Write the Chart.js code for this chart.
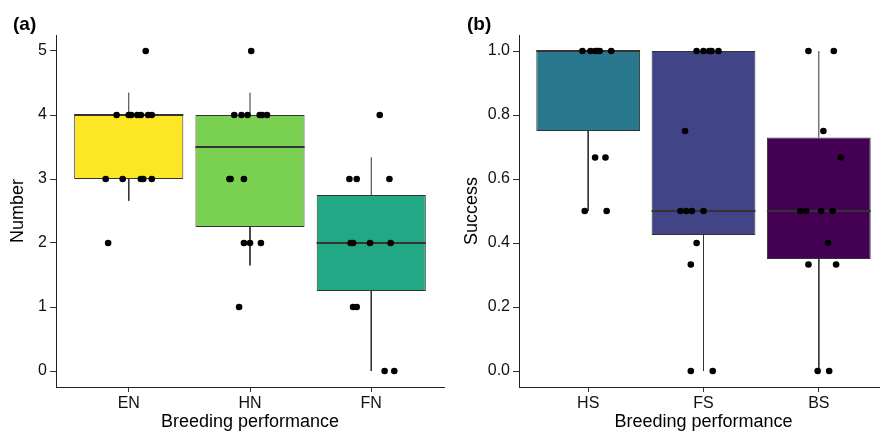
<!DOCTYPE html>
<html>
<head>
<meta charset="utf-8">
<script src="https://cdn.jsdelivr.net/npm/chart.js@4.4.1/dist/chart.umd.min.js"></script>
<style>
  html, body { margin: 0; padding: 0; background: #fff; overflow: hidden; }
  #wrapA { position: absolute; left: 0; top: 0; }
  #wrapB { position: absolute; left: 450px; top: 0; }
</style>
</head>
<body>
<div id="wrapA"><canvas id="chartA" width="450" height="433"></canvas></div>
<div id="wrapB"><canvas id="chartB" width="442" height="433"></canvas></div>
<script>
// Panel (a) - number
var numCats = ['EN', 'HN', 'FN'];
var numColors = ['#FDE725', '#7AD151', '#22A884'];
var numQ1 = [3, 2.25, 1.25];
var numMed = [4, 3.5, 2];
var numQ3 = [4, 4, 2.75];
var numLow = [2.66, 1.65, 0];
var numHigh = [4.35, 4.35, 3.34];
var numTicks = [0, 1, 2, 3, 4, 5];
var numPtsY = [
    [5, 4, 4, 4, 4, 4, 4, 4, 3, 3, 3, 3, 3, 2],
    [5, 4, 4, 4, 4, 4, 4, 3, 3, 3, 2, 2, 2, 1],
    [4, 3, 3, 3, 2, 2, 2, 2, 1, 1, 0, 0]
];
var numJitter = [
    [0.14, -0.10, 0.00, 0.02, 0.07, 0.10, 0.16, 0.19, -0.19, -0.05, 0.10, 0.12, 0.19, -0.17],
    [0.01, -0.13, -0.07, -0.02, 0.08, 0.10, 0.14, -0.17, -0.16, -0.05, -0.05, 0.00, 0.09, -0.09],
    [0.07, -0.18, -0.12, 0.15, -0.17, -0.15, -0.01, 0.16, -0.15, -0.12, 0.11, 0.19]
];

// Panel (b) - success
var sucCats = ['HS', 'FS', 'BS'];
var sucColors = ['#2A788E', '#414487', '#440154'];
var sucQ1 = [0.75, 0.425, 0.35];
var sucMed = [1.0, 0.5, 0.5];
var sucQ3 = [1.0, 1.0, 0.73];
var sucLow = [0.5, 0, 0];
var sucHigh = [1.0, 1.0, 1.0];
var sucTicks = [0, 0.2, 0.4, 0.6, 0.8, 1.0];
var sucPtsY = [
    [1, 1, 1, 1, 1, 1, 0.667, 0.667, 0.5, 0.5],
    [1, 1, 1, 1, 1, 0.75, 0.5, 0.5, 0.5, 0.5, 0.4, 0.333, 0, 0],
    [1, 1, 0.75, 0.667, 0.5, 0.5, 0.5, 0.5, 0.4, 0.333, 0.333, 0, 0]
];
var sucJitter = [
    [-0.05, 0.02, 0.06, 0.08, 0.10, 0.20, 0.06, 0.15, -0.03, 0.16],
    [-0.06, 0.00, 0.05, 0.07, 0.13, -0.16, -0.20, -0.15, -0.10, 0.00, -0.06, -0.11, -0.11, 0.08],
    [-0.09, 0.13, 0.04, 0.19, -0.16, -0.11, 0.02, 0.12, 0.08, -0.09, 0.15, -0.01, 0.09]
];

var FONT = "'Liberation Sans', Arial, sans-serif";
var INK = '#333333';
var BOX_HALF = 0.45;

// draws the (a)/(b) tag in the corner
var panelTag = {
    id: 'panelTag',
    afterDraw: function (chart, args, opts) {
        var ctx = chart.ctx;
        ctx.save();
        ctx.font = 'bold 19px ' + FONT;
        ctx.fillStyle = '#000';
        ctx.textBaseline = 'alphabetic';
        ctx.fillText(opts.text, opts.x, 30);
        ctx.restore();
    }
};

function buildDatasets(colors, q1, med, q3, low, high, ptsY, jitter) {
    var sets = [];
    // boxes
    sets.push({
        type: 'bar',
        data: q1.map(function (v, i) { return {x: i + 1, y: [v, q3[i]]}; }),
        backgroundColor: colors,
        borderColor: INK,
        borderWidth: 1,
        borderSkipped: false,
        categoryPercentage: 0.9,
        barPercentage: 1.0,
        order: 4
    });
    for (var i = 0; i < q1.length; i++) {
        // whiskers
        if (high[i] > q3[i]) {
            sets.push({type: 'line', data: [{x: i + 1, y: q3[i]}, {x: i + 1, y: high[i]}],
                borderColor: INK, borderWidth: 1, pointRadius: 0, order: 3});
        }
        if (low[i] < q1[i]) {
            sets.push({type: 'line', data: [{x: i + 1, y: q1[i]}, {x: i + 1, y: low[i]}],
                borderColor: INK, borderWidth: 1, pointRadius: 0, order: 3});
        }
        // median
        sets.push({type: 'line', data: [{x: i + 1 - BOX_HALF, y: med[i]}, {x: i + 1 + BOX_HALF, y: med[i]}],
            borderColor: INK, borderWidth: 2, pointRadius: 0, order: 2});
    }
    // jittered points
    var pts = [];
    ptsY.forEach(function (arr, i) {
        arr.forEach(function (v, j) { pts.push({x: i + 1 + jitter[i][j], y: v}); });
    });
    sets.push({type: 'scatter', data: pts, backgroundColor: '#000', borderWidth: 0,
        pointRadius: 3.3, order: 1});
    return sets;
}

function makeChart(id, cats, sets, yMin, yMax, yTicks, yFmt, yTitle, yWidth, yTitlePad, xMax, padRight, tag, tagX) {
    var ctx = document.getElementById(id).getContext('2d');
    return new Chart(ctx, {
        type: 'bar',
        data: {datasets: sets},
        plugins: [panelTag],
        options: {
            responsive: false,
            animation: false,
            events: [],
            layout: {padding: {top: 35, right: padRight, left: 0, bottom: 0}},
            plugins: {
                legend: {display: false},
                tooltip: {enabled: false},
                panelTag: {text: tag, x: tagX}
            },
            scales: {
                x: {
                    type: 'linear',
                    min: 0.4,
                    max: xMax,
                    offset: false,
                    afterBuildTicks: function (s) { s.ticks = cats.map(function (c, i) { return {value: i + 1}; }); },
                    afterFit: function (s) { s.height = 46; },
                    ticks: {
                        color: '#111', padding: 2,
                        font: {family: FONT, size: 16},
                        callback: function (v) { return cats[Math.round(v) - 1]; }
                    },
                    grid: {drawOnChartArea: false, drawTicks: true, tickLength: 5, color: INK, offset: false},
                    border: {display: true, color: '#222', width: 1},
                    title: {display: true, text: 'Breeding performance', color: '#000',
                        font: {family: FONT, size: 18}, padding: {top: 0, bottom: 0}}
                },
                y: {
                    min: yMin,
                    max: yMax,
                    afterBuildTicks: function (s) { s.ticks = yTicks.map(function (v) { return {value: v}; }); },
                    afterFit: function (s) { s.width = yWidth; },
                    ticks: {
                        color: '#111', padding: 3,
                        font: {family: FONT, size: 16},
                        callback: yFmt
                    },
                    grid: {drawOnChartArea: false, drawTicks: true, tickLength: 6, color: INK},
                    border: {display: true, color: '#222', width: 1},
                    title: {display: true, text: yTitle, color: '#000',
                        font: {family: FONT, size: 18}, padding: {top: yTitlePad, bottom: 0}}
                }
            }
        }
    });
}

var chartA = makeChart('chartA', numCats,
    buildDatasets(numColors, numQ1, numMed, numQ3, numLow, numHigh, numPtsY, numJitter),
    -0.25, 5.25, numTicks, function (v) { return String(v); }, 'Number', 56, 7, 3.6, 6, '(a)', 13);

var chartB = makeChart('chartB', sucCats,
    buildDatasets(sucColors, sucQ1, sucMed, sucQ3, sucLow, sucHigh, sucPtsY, sucJitter),
    -0.05, 1.05, sucTicks, function (v) { return v.toFixed(1); }, 'Success', 69, 11, 3.6, 0, '(b)', 17);
</script>
</body>
</html>
